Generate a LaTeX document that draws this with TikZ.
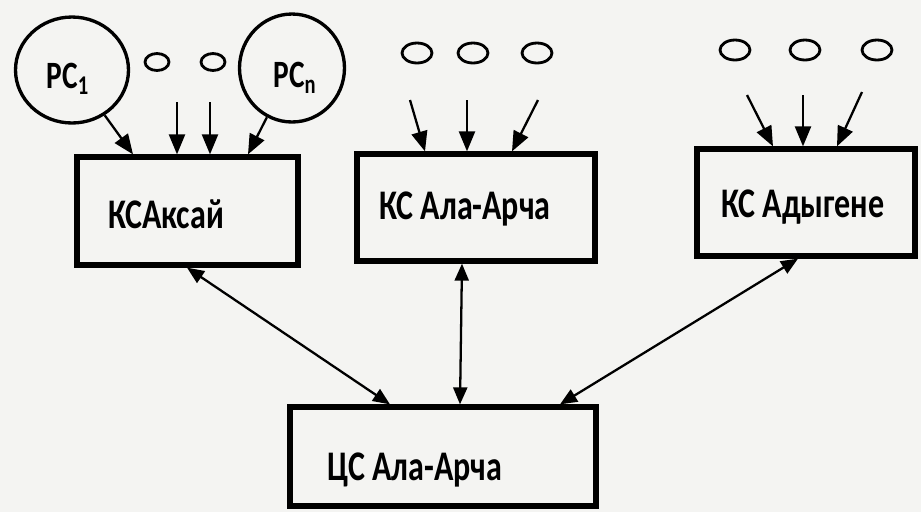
\documentclass[tikz,border=0pt]{standalone}
\usepackage{fontspec}
\setmainfont{Carlito}
\newfontfamily\lblfont{Carlito}[FakeStretch=0.76]
\usetikzlibrary{arrows.meta,shapes.geometric,calc}
\begin{document}
\begin{tikzpicture}[x=0.02cm,y=-0.02cm,
  box/.style={draw,line width=3pt,inner sep=0pt},
  lbl/.style={font=\lblfont\bfseries\fontsize{24}{27}\selectfont,inner sep=0pt},
  stn/.style={draw,ellipse,line width=1.9pt,inner sep=0pt},
  stnl/.style={font=\lblfont\bfseries\fontsize{22}{25}\selectfont,inner sep=0pt},
  oval/.style={draw,ellipse,line width=1.6pt,inner sep=0pt},
  arr/.style={line width=1.3pt,-{Triangle[length=0.4cm,width=0.32cm]}},
  dbl/.style={line width=1.3pt,{Triangle[length=0.34cm,width=0.28cm]}-{Triangle[length=0.34cm,width=0.28cm]}}]
\fill[fill={rgb,255:red,244;green,244;blue,242}] (0,0) rectangle (921,512);
\useasboundingbox (0,0) rectangle (921,512);

% boxes
\node[box,minimum width=4.42cm,minimum height=2.16cm] (b1) at (187.5,211) {};
\node[lbl] (t1) at (166,214) {КСАксай};
\node[box,minimum width=4.76cm,minimum height=2.14cm] (b2) at (476,207.5) {};
\node[lbl] (t2) at (465,209) {КС Ала-Арча};
\node[box,minimum width=4.36cm,minimum height=2.14cm] (b3) at (806,202.5) {};
\node[lbl] (t3) at (803,207) {КС Адыгене};
\node[box,minimum width=6.12cm,minimum height=1.98cm] (b4) at (443,456.5) {};
\node[lbl] (t4) at (415,470) {ЦС Ала-Арча};

% stations
\node[stn,minimum width=2.26cm,minimum height=2.12cm] (p1) at (72,70) {};
\node[stnl] (l1) at (68,79) {РС\textsubscript{1}};
\node[stn,minimum width=2.1cm,minimum height=2.16cm] (pn) at (292,68) {};
\node[stnl] (ln) at (295,78) {РС\textsubscript{n}};

% small ovals
\node[oval,minimum width=0.48cm,minimum height=0.34cm] (o11) at (157,62) {};
\node[oval,minimum width=0.48cm,minimum height=0.34cm] (o12) at (213,62) {};
\node[oval,minimum width=0.6cm,minimum height=0.4cm] (o21) at (417,53) {};
\node[oval,minimum width=0.6cm,minimum height=0.4cm] (o22) at (473,53) {};
\node[oval,minimum width=0.6cm,minimum height=0.4cm] (o23) at (537,53) {};
\node[oval,minimum width=0.6cm,minimum height=0.4cm] (o31) at (735,50) {};
\node[oval,minimum width=0.6cm,minimum height=0.4cm] (o32) at (805,50) {};
\node[oval,minimum width=0.6cm,minimum height=0.4cm] (o33) at (877,50) {};

% arrow columns and free starts
\coordinate (c11) at (133,0);
\coordinate (c12) at (177,0);
\coordinate (c13) at (210,0);
\coordinate (c14) at (248,0);
\coordinate (s12) at (177,102);
\coordinate (s13) at (210,102);

\coordinate (s21) at (410,100);
\coordinate (s22) at (467,100);
\coordinate (s23) at (538,100);
\coordinate (c21) at (425,0);
\coordinate (c22) at (467,0);
\coordinate (c23) at (512,0);

\coordinate (s31) at (747,95);
\coordinate (s32) at (803,95);
\coordinate (s33) at (862,92);
\coordinate (c31) at (773,0);
\coordinate (c32) at (803,0);
\coordinate (c33) at (837,0);

\coordinate (d1) at (187,0);
\coordinate (d2) at (462,0);
\coordinate (d3) at (798,0);
\coordinate (e1) at (390,0);
\coordinate (e2) at (460,0);
\coordinate (e3) at (560,0);

% input arrows
\draw[arr] (p1) -- (c11 |- b1.north);
\draw[arr] (s12) -- (c12 |- b1.north);
\draw[arr] (s13) -- (c13 |- b1.north);
\draw[arr] (pn) -- (c14 |- b1.north);

\draw[arr] (s21) -- (c21 |- b2.north);
\draw[arr] (s22) -- (c22 |- b2.north);
\draw[arr] (s23) -- (c23 |- b2.north);

\draw[arr] (s31) -- (c31 |- b3.north);
\draw[arr] (s32) -- (c32 |- b3.north);
\draw[arr] (s33) -- (c33 |- b3.north);

% links to the central station
\draw[dbl] (d1 |- b1.south) -- (e1 |- b4.north);
\draw[dbl] (d2 |- b2.south) -- (e2 |- b4.north);
\draw[dbl] (d3 |- b3.south) -- (e3 |- b4.north);
\end{tikzpicture}
\end{document}
